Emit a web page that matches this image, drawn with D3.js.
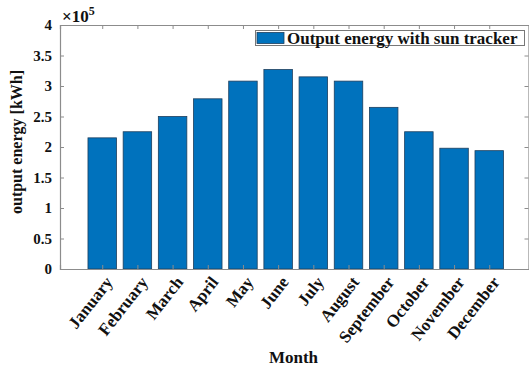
<!DOCTYPE html>
<html>
<head>
<meta charset="utf-8">
<script src="https://cdn.jsdelivr.net/npm/d3@7"></script>
<style>
  html, body { margin: 0; padding: 0; background: #fff; }
  svg { display: block; }
  text { font-family: "Liberation Serif", "Times New Roman", serif; font-weight: bold; fill: #111; }
</style>
</head>
<body>
<svg id="chart" width="529" height="367"></svg>
<script>
// Monthly output energy (×10^5 kWh) of the PV system with sun tracker
const months = ["January", "February", "March", "April", "May", "June",
                "July", "August", "September", "October", "November", "December"];
const energy = [2.15, 2.25, 2.50, 2.79, 3.08, 3.27, 3.15, 3.08, 2.65, 2.25, 1.98, 1.94];
const yTicks = [0, 0.5, 1, 1.5, 2, 2.5, 3, 3.5, 4];
const legendLabel = "Output energy with sun tracker";

const svg = d3.select("#chart");
const plot = { left: 60, top: 25, right: 529, bottom: 269 };

// bars sit at integer positions 1..12 like a MATLAB bar plot
const x = d3.scaleLinear().domain([-0.2, 13.13]).range([plot.left, plot.right]);
const y = d3.scaleLinear().domain([0, 4]).range([plot.bottom, plot.top]);
const barW = 0.81;
const axisColor = "#8c8c8c";

// bars
svg.append("g").selectAll("rect")
  .data(energy)
  .join("rect")
  .attr("x", (d, i) => x(i + 1 - barW / 2))
  .attr("width", x(barW) - x(0))
  .attr("y", d => y(d))
  .attr("height", d => y(0) - y(d))
  .attr("fill", "#0072BD")
  .attr("stroke", "#1d3f5e")
  .attr("stroke-width", 0.8);

// box axes with inward ticks
const xTickPos = months.map((m, i) => i + 1);
const left = d3.axisLeft(y).tickValues(yTicks).tickFormat(d3.format("")).tickSize(-4).tickPadding(8);
const gL = svg.append("g").attr("transform", `translate(${plot.left},0)`).call(left);
const gR = svg.append("g").attr("transform", `translate(${plot.right - 0.5},0)`)
  .call(d3.axisRight(y).tickValues(yTicks).tickSize(-4).tickFormat(""));
const gT = svg.append("g").attr("transform", `translate(0,${plot.top})`)
  .call(d3.axisTop(x).tickValues(xTickPos).tickSize(-4).tickFormat(""));
const gB = svg.append("g").attr("transform", `translate(0,${plot.bottom})`)
  .call(d3.axisBottom(x).tickValues(xTickPos).tickSize(-4).tickFormat(""));

[gL, gR, gT, gB].forEach(g => {
  g.attr("font-family", null).attr("font-size", null);
  g.selectAll(".domain").attr("stroke", axisColor).attr("stroke-width", 1.2);
  g.selectAll(".tick line").attr("stroke", axisColor);
});
gL.selectAll(".tick text").style("font-size", "15px").attr("fill", "#111");

// month labels, rotated
svg.append("g").selectAll("text")
  .data(months)
  .join("text")
  .attr("transform", (d, i) => `translate(${x(i + 1) + 2},${plot.bottom + 6}) rotate(-52)`)
  .attr("text-anchor", "end")
  .attr("dy", "0.7em")
  .style("font-size", "17px")
  .text(d => d);

// exponent label
const expo = svg.append("text").attr("x", plot.left + 2).attr("y", 22).style("font-size", "17px");
expo.append("tspan").text("×10");
expo.append("tspan").attr("dy", -7).style("font-size", "12px").text("5");

// axis titles
svg.append("text")
  .attr("x", (plot.left + plot.right) / 2 - 1)
  .attr("y", 363)
  .attr("text-anchor", "middle")
  .style("font-size", "17px")
  .text("Month");

svg.append("text")
  .attr("transform", `translate(22,${(plot.top + plot.bottom) / 2 - 5}) rotate(-90)`)
  .attr("text-anchor", "middle")
  .style("font-size", "16px")
  .text("output energy [kWh]");

// legend
const lg = svg.append("g");
lg.append("rect")
  .attr("x", 255.5).attr("y", 30.5).attr("width", 269).attr("height", 15)
  .attr("fill", "#fff").attr("stroke", "#777").attr("stroke-width", 1);
lg.append("rect")
  .attr("x", 257).attr("y", 32.5).attr("width", 27).attr("height", 11)
  .attr("fill", "#0072BD").attr("stroke", "#1d3f5e").attr("stroke-width", 0.8);
lg.append("text")
  .attr("x", 287).attr("y", 43.5)
  .style("font-size", "17px")
  .text(legendLabel);
</script>
</body>
</html>
